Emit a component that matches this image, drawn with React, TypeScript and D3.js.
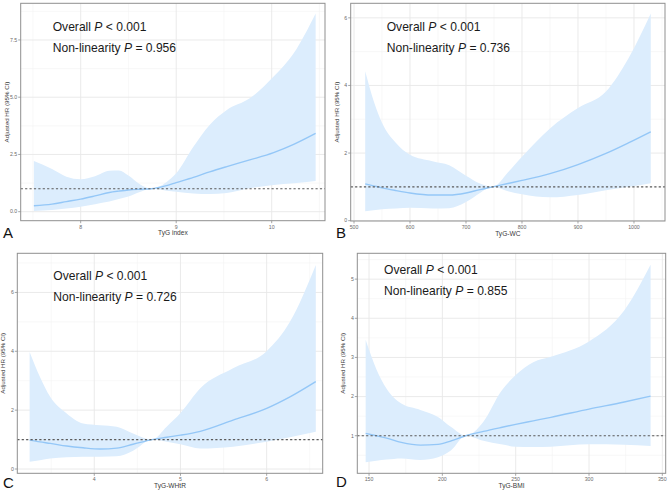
import React from "react";
import * as d3 from "d3";

const W = 669;
const H = 491;

// A: TyG index
const aX = [7.51, 7.7, 7.85, 8.0, 8.15, 8.3, 8.4, 8.5, 8.62, 8.74, 8.9, 9.0, 9.18, 9.35, 9.53, 9.77, 10.02, 10.23, 10.46];
const aHr = [0.26, 0.33, 0.44, 0.55, 0.69, 0.84, 0.9, 0.95, 0.98, 1.0, 1.14, 1.27, 1.5, 1.74, 1.97, 2.26, 2.58, 2.94, 3.42];
const aUpper = [2.21, 1.86, 1.53, 1.42, 1.55, 1.79, 1.8, 1.58, 1.2, 1.0, 1.3, 1.68, 2.84, 3.79, 4.44, 4.95, 5.9, 6.92, 8.66];
const aLower = [0.03, 0.07, 0.14, 0.22, 0.33, 0.44, 0.55, 0.66, 0.86, 1.0, 0.92, 0.87, 0.8, 0.77, 0.82, 1.02, 1.17, 1.24, 1.34];

// B: TyG-WC
const bX = [520, 535, 550, 575, 600, 640, 670, 700, 725, 748, 775, 800, 850, 900, 950, 990, 1030];
const bHr = [1.09, 1.03, 0.97, 0.89, 0.82, 0.76, 0.76, 0.82, 0.92, 1.0, 1.1, 1.19, 1.39, 1.66, 1.99, 2.3, 2.63];
const bUpper = [4.42, 3.55, 2.9, 2.3, 1.95, 1.76, 1.64, 1.33, 1.1, 1.0, 1.43, 1.89, 2.73, 3.33, 3.82, 4.8, 6.13];
const bLower = [0.28, 0.31, 0.34, 0.36, 0.38, 0.36, 0.37, 0.55, 0.82, 1.0, 0.87, 0.78, 0.69, 0.76, 0.9, 1.0, 1.11];

// C: TyG-WHtR
const cX = [3.25, 3.37, 3.49, 3.68, 3.87, 4.07, 4.26, 4.45, 4.67, 4.84, 5.0, 5.23, 5.61, 6.0, 6.27, 6.57];
const cHr = [0.98, 0.92, 0.87, 0.78, 0.72, 0.68, 0.71, 0.84, 1.0, 1.08, 1.15, 1.28, 1.66, 2.06, 2.45, 2.97];
const cUpper = [3.98, 3.13, 2.45, 1.89, 1.55, 1.49, 1.44, 1.21, 1.0, 1.44, 1.9, 2.74, 3.42, 4.0, 5.0, 6.93];
const cLower = [0.25, 0.3, 0.36, 0.4, 0.42, 0.42, 0.43, 0.62, 1.0, 0.93, 0.84, 0.7, 0.76, 0.93, 1.08, 1.27];

// D: TyG-BMI
const dX = [147.7, 155, 162, 172, 185, 197, 206, 216, 228, 240, 250, 262, 274, 300, 324, 342];
const dHr = [1.06, 1.0, 0.94, 0.83, 0.76, 0.78, 0.87, 1.0, 1.11, 1.21, 1.29, 1.38, 1.47, 1.68, 1.86, 2.01];
const dUpper = [3.45, 2.7, 2.2, 1.82, 1.66, 1.48, 1.22, 1.0, 1.36, 2.13, 2.55, 2.88, 3.02, 3.41, 4.2, 5.37];
const dLower = [0.32, 0.36, 0.39, 0.42, 0.38, 0.45, 0.63, 1.0, 0.87, 0.78, 0.72, 0.71, 0.72, 0.78, 0.77, 0.74];

const panelLetters = ["A", "B", "C", "D"];
const xTitles = ["TyG index", "TyG-WC", "TyG-WHtR", "TyG-BMI"];
const nonLinP = ["0.956", "0.736", "0.726", "0.855"];
const yTitle = "Adjusted HR (95% CI)";

const aTicksX = [8, 9, 10];
const aTicksY = [0, 2.5, 5, 7.5];
const bTicksX = [500, 600, 700, 800, 900, 1000];
const bTicksY = [0, 2, 4, 6];
const cTicksX = [4, 5, 6];
const cTicksY = [0, 2, 4, 6];
const dTicksX = [150, 200, 250, 300, 350];
const dTicksY = [1, 2, 3, 4, 5];

const font = "Liberation Sans, Arial, Helvetica, sans-serif";

type Panel = {
  box: [number, number, number, number];
  xDomain: [number, number];
  yDomain: [number, number];
  x: number[];
  hr: number[];
  upper: number[];
  lower: number[];
  ticksX: number[];
  ticksY: number[];
  fmtY: (v: number) => string;
  note: [number, number];
  letter: [number, number];
};

const panels: Panel[] = [
  {
    box: [20.7, 3.3, 325, 220.7],
    xDomain: [7.372, 10.558],
    yDomain: [-0.393, 9.1],
    x: aX, hr: aHr, upper: aUpper, lower: aLower,
    ticksX: aTicksX, ticksY: aTicksY,
    fmtY: d3.format(".1f"),
    note: [52.7, 31],
    letter: [3, 238],
  },
  {
    box: [350.7, 3.3, 665, 221],
    xDomain: [494.1, 1055.4],
    yDomain: [-0.01, 6.43],
    x: bX, hr: bHr, upper: bUpper, lower: bLower,
    ticksX: bTicksX, ticksY: bTicksY,
    fmtY: d3.format("d"),
    note: [386.7, 31],
    letter: [336, 238],
  },
  {
    box: [17.3, 253.3, 322.7, 473.3],
    xDomain: [3.107, 6.65],
    yDomain: [-0.146, 7.33],
    x: cX, hr: cHr, upper: cUpper, lower: cLower,
    ticksX: cTicksX, ticksY: cTicksY,
    fmtY: d3.format("d"),
    note: [53.3, 280],
    letter: [3, 488],
  },
  {
    box: [357.3, 253.3, 665.7, 473.3],
    xDomain: [142.0, 352.3],
    yDomain: [0.04, 5.66],
    x: dX, hr: dHr, upper: dUpper, lower: dLower,
    ticksX: dTicksX, ticksY: dTicksY,
    fmtY: d3.format("d"),
    note: [384, 274],
    letter: [336, 487],
  },
];

const minorOf = (ticks: number[], domain: [number, number]) => {
  const step = ticks[1] - ticks[0];
  const out: number[] = [];
  for (let v = ticks[0] - step / 2; v <= domain[1]; v += step) {
    if (v >= domain[0]) out.push(v);
  }
  return out;
};

const PanelView = ({ p, i }: { p: Panel; i: number }) => {
  const [x0, y0, x1, y1] = p.box;
  const xs = d3.scaleLinear().domain(p.xDomain).range([x0, x1]);
  const ys = d3.scaleLinear().domain(p.yDomain).range([y1, y0]);
  const idx = d3.range(p.x.length);

  const band = d3
    .area<number>()
    .curve(d3.curveMonotoneX)
    .x((k) => xs(p.x[k]))
    .y0((k) => ys(p.lower[k]))
    .y1((k) => ys(p.upper[k]));
  const line = d3
    .line<number>()
    .curve(d3.curveMonotoneX)
    .x((k) => xs(p.x[k]))
    .y((k) => ys(p.hr[k]));

  const minorX = minorOf(p.ticksX, p.xDomain);
  const minorY = minorOf(p.ticksY, p.yDomain);
  const cx = (x0 + x1) / 2;
  const cy = (y0 + y1) / 2;

  return (
    <g>
      {minorX.map((v) => (
        <line key={"mx" + v} x1={xs(v)} x2={xs(v)} y1={y0} y2={y1} stroke="#f3f3f3" strokeWidth={0.6} />
      ))}
      {minorY.map((v) => (
        <line key={"my" + v} x1={x0} x2={x1} y1={ys(v)} y2={ys(v)} stroke="#f3f3f3" strokeWidth={0.6} />
      ))}
      {p.ticksX.map((v) => (
        <line key={"gx" + v} x1={xs(v)} x2={xs(v)} y1={y0} y2={y1} stroke="#e8e8e8" strokeWidth={0.9} />
      ))}
      {p.ticksY.map((v) => (
        <line key={"gy" + v} x1={x0} x2={x1} y1={ys(v)} y2={ys(v)} stroke="#e8e8e8" strokeWidth={0.9} />
      ))}

      <path d={band(idx) || ""} fill="#dcedfd" />
      <path d={line(idx) || ""} fill="none" stroke="#94c7f7" strokeWidth={1.4} />
      <line x1={x0} x2={x1} y1={ys(1)} y2={ys(1)} stroke="#5a5a5a" strokeWidth={1.1} strokeDasharray="2.2,2.2" />

      <rect x={x0} y={y0} width={x1 - x0} height={y1 - y0} fill="none" stroke="#8f8f8f" strokeWidth={1} />

      {p.ticksX.map((v) => (
        <g key={"tx" + v}>
          <line x1={xs(v)} x2={xs(v)} y1={y1} y2={y1 + 2.5} stroke="#8f8f8f" strokeWidth={0.8} />
          <text x={xs(v)} y={y1 + 8} textAnchor="middle" fontSize={5.2} fill="#6a6a6a" fontFamily={font}>
            {v}
          </text>
        </g>
      ))}
      {p.ticksY.map((v) => (
        <g key={"ty" + v}>
          <line x1={x0 - 2.5} x2={x0} y1={ys(v)} y2={ys(v)} stroke="#8f8f8f" strokeWidth={0.8} />
          <text x={x0 - 3.5} y={ys(v) + 1.8} textAnchor="end" fontSize={5.2} fill="#6a6a6a" fontFamily={font}>
            {p.fmtY(v)}
          </text>
        </g>
      ))}

      <text x={cx} y={y1 + 14.5} textAnchor="middle" fontSize={6.6} fill="#3a3a3a" fontFamily={font}>
        {xTitles[i]}
      </text>
      <text
        transform={`translate(${x0 - 12},${cy}) rotate(-90)`}
        textAnchor="middle"
        fontSize={6.2}
        fill="#3a3a3a"
        fontFamily={font}
      >
        {yTitle}
      </text>

      <text x={p.note[0]} y={p.note[1]} fontSize={12.1} fill="#1a1a1a" fontFamily={font}>
        Overall <tspan fontStyle="italic">P</tspan> {"< 0.001"}
      </text>
      <text x={p.note[0]} y={p.note[1] + 21} fontSize={12.1} fill="#1a1a1a" fontFamily={font}>
        Non-linearity <tspan fontStyle="italic">P</tspan> = {nonLinP[i]}
      </text>

      <text x={p.letter[0]} y={p.letter[1]} fontSize={15} fill="#111" fontFamily={font}>
        {panelLetters[i]}
      </text>
    </g>
  );
};

export default function App() {
  return (
    <svg
      width={W}
      height={H}
      viewBox={`0 0 ${W} ${H}`}
      style={{ position: "absolute", left: 0, top: 0, background: "#fff" }}
    >
      <rect width={W} height={H} fill="#fff" />
      {panels.map((p, i) => (
        <PanelView key={i} p={p} i={i} />
      ))}
    </svg>
  );
}
